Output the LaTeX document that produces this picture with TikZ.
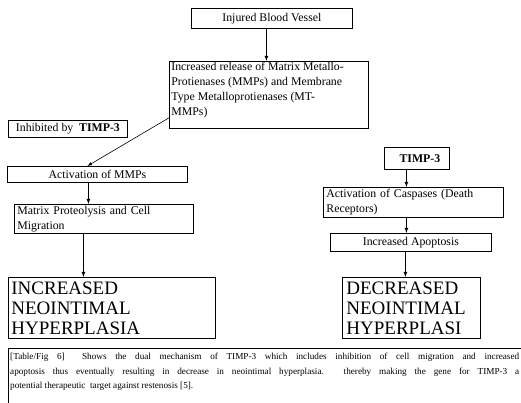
\documentclass[tikz,border=0pt]{standalone}
\usepackage{fontspec}
\setmainfont{Liberation Serif}
\usepackage{tikz}
\usetikzlibrary{arrows, positioning}

\begin{document}
\begin{tikzpicture}[x=1pt, y=-1pt,
  box/.style={draw, line width=0.8pt, rectangle, anchor=north west, inner sep=0pt,
    font=\fontsize{11.8}{15}\selectfont},
  bigbox/.style={box, align=left, font=\fontsize{19}{20}\selectfont},
  arr/.style={-latex, line width=0.8pt}]
\useasboundingbox (0,0) rectangle (521,403);

% left branch
\node[box, minimum width=161pt, minimum height=20pt] (vessel) at (191,8) {Injured Blood Vessel};
\node[box] (release) at (169,61) {\parbox[c][67pt][t]{199pt}{\hspace{2pt}\parbox[t]{195pt}{\vspace{1pt}
  Increased release of Matrix Metallo-\\
  Protienases (MMPs) and Membrane\\
  Type Metalloprotienases (MT-\\
  MMPs)}}};
\node[box, minimum width=119pt, minimum height=17pt] (inhib) at (8,120) {Inhibited by\ \ \textbf{TIMP-3}};
\node[box, minimum width=180pt, minimum height=16pt] (actmmp) at (7,166) {Activation of MMPs};
\node[box, minimum width=179pt, minimum height=29pt, align=left, text width=173pt] (proteo) at (14,204)
  {Matrix Proteolysis and Cell\\Migration};
\node[bigbox, minimum width=207pt, minimum height=61pt, text width=201pt] (incr) at (8,277)
  {INCREASED\\NEOINTIMAL\\HYPERPLASIA};

% right branch
\node[box, minimum width=65pt, minimum height=22pt] (timp) at (384,147) {\hspace{6pt}\textbf{TIMP-3}};
\node[box, minimum width=180pt, minimum height=30pt, align=left, text width=174pt] (caspase) at (323,187)
  {Activation of Caspases (Death\\Receptors)};
\node[box, minimum width=161pt, minimum height=18pt] (apopt) at (330,233) {Increased Apoptosis};
\node[bigbox, minimum width=138pt, minimum height=61pt, text width=130pt] (decr) at (342,277)
  {DECREASED\\NEOINTIMAL\\HYPERPLASI};

% caption
\draw[line width=0.6pt] (530,348) -- (8,348) -- (8,410);
\node[anchor=north west, inner sep=0pt] (caption) at (10,353)
  {\parbox[t]{509pt}{\fontsize{9.2}{14.5}\selectfont
  [Table/Fig 6]\ \ Shows the dual mechanism of TIMP-3 which includes inhibition of cell migration and increased\linebreak
  apoptosis thus eventually resulting in decrease in neointimal hyperplasia. thereby making the gene for TIMP-3 a\linebreak
  potential therapeutic\ \ target against restenosis [5].}};

% connectors
\draw[arr] ([xshift=-5.5pt]vessel.south) -- ([xshift=-5.5pt]vessel.south |- release.north);
\draw[line width=0.6pt, -latex] ([yshift=11pt]release.south west) -- ([xshift=-10pt]actmmp.north);
\draw[arr] ([xshift=-9pt]actmmp.south) -- ([xshift=-9pt]actmmp.south |- proteo.north);
\draw[arr] ([xshift=-20.5pt]proteo.south) -- ([xshift=-20.5pt]proteo.south |- incr.north);
\draw[arr] ([xshift=-10.5pt]timp.south) -- ([xshift=-10.5pt]timp.south |- caspase.north);
\draw[arr] ([xshift=-7pt]caspase.south) -- ([xshift=-7pt]caspase.south |- apopt.north);
\draw[arr] ([xshift=-5.5pt]apopt.south) -- ([xshift=-5.5pt]apopt.south |- decr.north);
\end{tikzpicture}
\end{document}
